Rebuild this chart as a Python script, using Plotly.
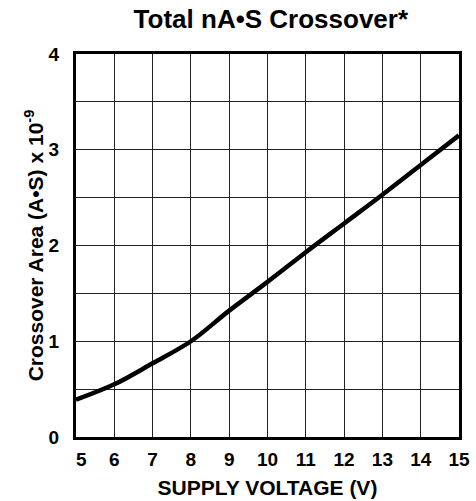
import plotly.graph_objects as go

voltage = [5, 6, 7, 8, 9, 10, 11, 12, 13, 14, 15]
area = [0.39, 0.55, 0.77, 1.00, 1.32, 1.62, 1.93, 2.23, 2.53, 2.84, 3.15]
x_ticks = [5, 6, 7, 8, 9, 10, 11, 12, 13, 14, 15]
x_labels = ["\u00a0\u00a05", "6", "7", "8", "9", "10", "11", "12", "13", "14", "15"]
y_ticks = [0, 1, 2, 3, 4]
y_labels = ["0", "1", "2", "3", "4"]

FONT = "Liberation Sans, Arial, sans-serif"
GRID = "#222"

fig = go.Figure()
fig.add_trace(go.Scatter(
    x=voltage, y=area, mode="lines",
    line=dict(color="black", width=4.5, shape="spline", smoothing=1),
    hoverinfo="skip", showlegend=False,
))

fig.update_layout(
    width=476, height=501,
    margin=dict(l=76, r=17, t=54, b=64),
    paper_bgcolor="white", plot_bgcolor="white",
    title=dict(text="<b>Total nA•S Crossover*</b>", x=0.569, xanchor="center",
               y=0.962, yanchor="middle",
               font=dict(family=FONT, size=26, color="black")),
    font=dict(family=FONT, color="black"),
)
fig.update_xaxes(
    range=[5, 15], tickvals=x_ticks, ticktext=[f"<b>{v}</b>" for v in x_labels],
    tickfont=dict(family=FONT, size=19, color="black"),
    showgrid=True, gridcolor=GRID, gridwidth=1.2,
    showline=True, linecolor="black", linewidth=3, mirror=True,
    ticks="", ticklabelstandoff=3, zeroline=False, automargin=False,
    title=dict(text="<b>SUPPLY VOLTAGE (V)</b>", standoff=12,
               font=dict(family=FONT, size=21, color="black")),
)
fig.update_yaxes(
    range=[0, 4], tickvals=y_ticks, ticktext=[f"<b>{t}</b>" for t in y_labels],
    tickfont=dict(family=FONT, size=19, color="black"),
    showgrid=True, gridcolor=GRID, gridwidth=1.2,
    minor=dict(dtick=0.5, showgrid=True, gridcolor=GRID, gridwidth=1.2, ticks=""),
    showline=True, linecolor="black", linewidth=3, mirror=True,
    ticks="", ticklabelstandoff=10, zeroline=False, automargin=False,
    title=dict(text="<b>Crossover Area (A•S) x 10<sup>-9</sup></b>", standoff=0,
               font=dict(family=FONT, size=21, color="black")),
)

fig.write_html("out.html", config={"displayModeBar": False},
               post_script="document.body.style.margin='0';")
